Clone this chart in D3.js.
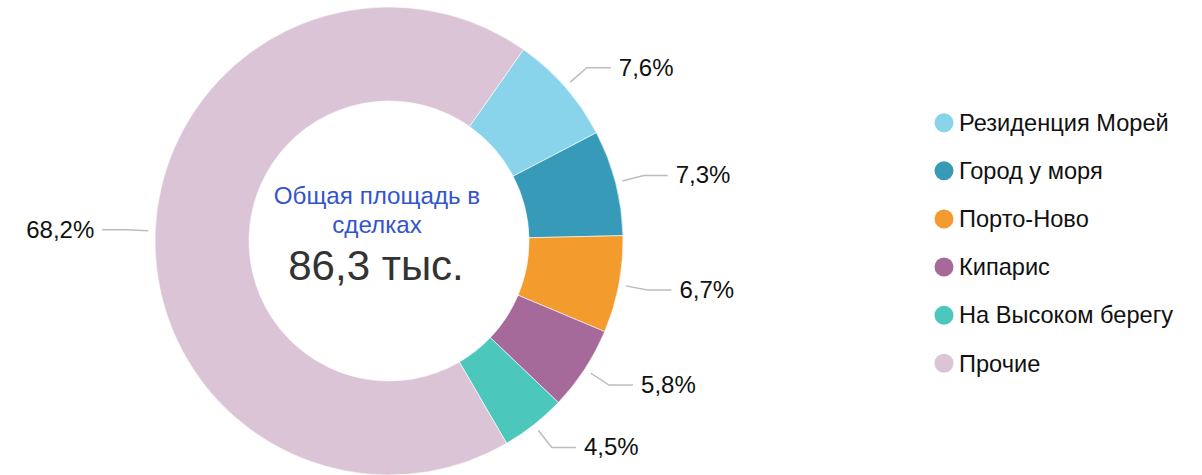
<!DOCTYPE html>
<html>
<head>
<meta charset="utf-8">
<script src="https://cdn.jsdelivr.net/npm/d3@7"></script>
<style>
  body { margin: 0; background: #fff; }
  svg { display: block; font-family: "Liberation Sans", Arial, sans-serif; }
</style>
</head>
<body>
<script>
// chart data
const NAMES = ['Резиденция Морей', 'Город у моря', 'Порто-Ново', 'Кипарис', 'На Высоком берегу', 'Прочие'];
const SHARES = [7.6, 7.3, 6.7, 5.8, 4.5, 68.2];
const LABELS = ['7,6%', '7,3%', '6,7%', '5,8%', '4,5%', '68,2%'];
const COLORS = ['#8ad4eb', '#379ab9', '#f39b2d', '#a66a9a', '#4cc7bc', '#dac4d6'];
const CENTER_TITLE = ['Общая площадь в', 'сделках'];
const CENTER_VALUE = '86,3 тыс.';

const WIDTH = 1202;
const HEIGHT = 475;
const CX = 389;
const CY = 241;
const R_OUTER = 234;
const R_INNER = 140;
const START = 35.1 * Math.PI / 180;

const svg = d3.select('body')
  .append('svg')
    .attr('width', WIDTH)
    .attr('height', HEIGHT);

const pie = d3.pie()
    .sort(null)
    .startAngle(START)
    .endAngle(START + 2 * Math.PI);

const arcs = pie(SHARES);

const arc = d3.arc()
    .innerRadius(R_INNER)
    .outerRadius(R_OUTER);

const chart = svg.append('g')
    .attr('transform', `translate(${CX}, ${CY})`);

// slices
chart.selectAll('path.slice')
  .data(arcs)
  .enter()
  .append('path')
    .attr('class', 'slice')
    .attr('d', arc)
    .attr('fill', (d, i) => COLORS[i])
    .attr('stroke', '#fff')
    .attr('stroke-width', 0.6);

// leader lines and percentage labels
const polar = (r, a) => [r * Math.sin(a), -r * Math.cos(a)];

arcs.forEach((d, i) => {
  const mid = (d.startAngle + d.endAngle) / 2;
  const p0 = polar(241, mid);
  const p1 = polar(263, mid);
  const right = Math.sin(mid) > 0;
  const p2 = [p1[0] + (right ? 24 : -24), p1[1]];

  chart.append('polyline')
      .attr('points', [p0, p1, p2].map(p => p.join(',')).join(' '))
      .attr('fill', 'none')
      .attr('stroke', '#bdbdbd')
      .attr('stroke-width', 1.5);

  chart.append('text')
      .attr('x', p2[0] + (right ? 8 : -8))
      .attr('y', p2[1] + 8)
      .attr('text-anchor', right ? 'start' : 'end')
      .attr('font-size', 24)
      .attr('fill', '#111')
      .text(LABELS[i]);
});

// centre text
chart.selectAll('text.title')
  .data(CENTER_TITLE)
  .enter()
  .append('text')
    .attr('class', 'title')
    .attr('x', -12)
    .attr('y', (d, i) => -37 + i * 28.7)
    .attr('text-anchor', 'middle')
    .attr('font-size', 24.2)
    .attr('fill', '#3355cc')
    .text(d => d);

chart.append('text')
    .attr('x', -13)
    .attr('y', 39)
    .attr('text-anchor', 'middle')
    .attr('font-size', 42)
    .attr('fill', '#333')
    .text(CENTER_VALUE);

// legend
const legendY = d3.scalePoint()
    .domain(NAMES)
    .range([122.7, 363.3]);

const legend = svg.append('g')
    .attr('id', 'legend');

const items = legend.selectAll('g')
  .data(NAMES)
  .enter()
  .append('g')
    .attr('transform', d => `translate(944, ${legendY(d)})`);

items.append('circle')
    .attr('r', 9.5)
    .attr('fill', (d, i) => COLORS[i]);

items.append('text')
    .attr('x', 15)
    .attr('y', 8.3)
    .attr('font-size', 23.6)
    .attr('fill', '#111')
    .text(d => d);
</script>
</body>
</html>
